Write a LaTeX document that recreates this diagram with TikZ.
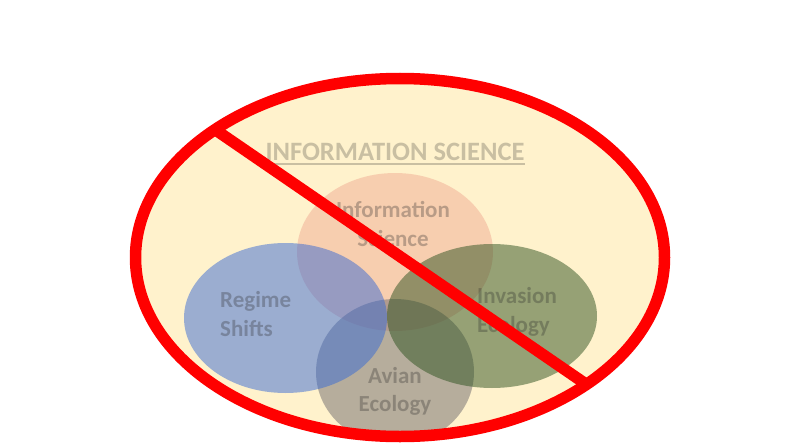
\documentclass[tikz,border=0pt]{standalone}
\usepackage{fontspec}
\setmainfont{Carlito}
\usetikzlibrary{shapes.geometric}
\definecolor{cream}{RGB}{255,242,204}
\definecolor{peachc}{RGB}{241,172,148}
\definecolor{bluec}{RGB}{56,106,212}
\definecolor{greenc}{RGB}{46,82,32}
\definecolor{grayc}{RGB}{111,106,110}
\definecolor{textc}{RGB}{40,40,40}
\definecolor{ringred}{RGB}{255,0,0}
\begin{document}
\begin{tikzpicture}[x=1pt,y=-1pt,
  setshape/.style={ellipse, inner sep=0pt, outer sep=0pt, draw=none, fill opacity=0.5},
  settext/.style={inner sep=0pt, text=textc, text opacity=0.3,
    font=\bfseries\fontsize{23}{29}\selectfont},
  titletext/.style={inner sep=0pt, text=textc, text opacity=0.25,
    font=\bfseries\fontsize{26.5}{30}\selectfont},
  redline/.style={draw=ringred, line width=11.5pt}]
\useasboundingbox (0,0) rectangle (790,444);
\fill[white] (0,0) rectangle (790,444);
% background ellipse
\node[ellipse, fill=cream, inner sep=0pt, minimum width=529pt, minimum height=358pt] (outer) at (400,257.5) {};
% title
\node[titletext, anchor=base] (title) at (395,160) {INFORMATION SCIENCE};
\draw[draw=textc, draw opacity=0.25, line width=1.8pt]
  ([yshift=-4pt]title.base west) -- ([yshift=-4pt]title.base east);
% sets
\begin{scope}
  \clip (400,257.5) ellipse [x radius=264.5, y radius=179];
  \node[setshape, fill=peachc, minimum width=196pt, minimum height=158pt] (info) at (395,252) {};
  \node[setshape, fill=grayc, minimum width=158pt, minimum height=146pt] (avian) at (395,372) {};
  \node[setshape, fill=bluec, minimum width=203pt, minimum height=150pt] (regime) at (285.5,318) {};
  \node[setshape, fill=greenc, minimum width=210pt, minimum height=144pt] (invasion) at (492,316) {};
\end{scope}
% labels
\node[settext, anchor=base] (infoA) at (393,217) {Information};
\node[settext, anchor=base] (infoB) at (393,246) {Science};
\node[settext, anchor=base west] (regA) at (220,307) {Regime};
\node[settext, anchor=base west] (regB) at (220,336) {Shifts};
\node[settext, anchor=base west] (invA) at (477,303) {Invasion};
\node[settext, anchor=base west] (invB) at (477,332) {Ecology};
\node[settext, anchor=base] (aviA) at (395,383) {Avian};
\node[settext, anchor=base] (aviB) at (395,411) {Ecology};
% red ring and slash
\draw[redline] (outer.center) ellipse [x radius=264.5, y radius=179];
\coordinate (s1) at (205,122.7);
\coordinate (s2) at (595,390.3);
\begin{scope}
  \clip (400,257.5) ellipse [x radius=264.5, y radius=179];
  \draw[redline] (s1) -- (s2);
\end{scope}
\end{tikzpicture}
\end{document}
